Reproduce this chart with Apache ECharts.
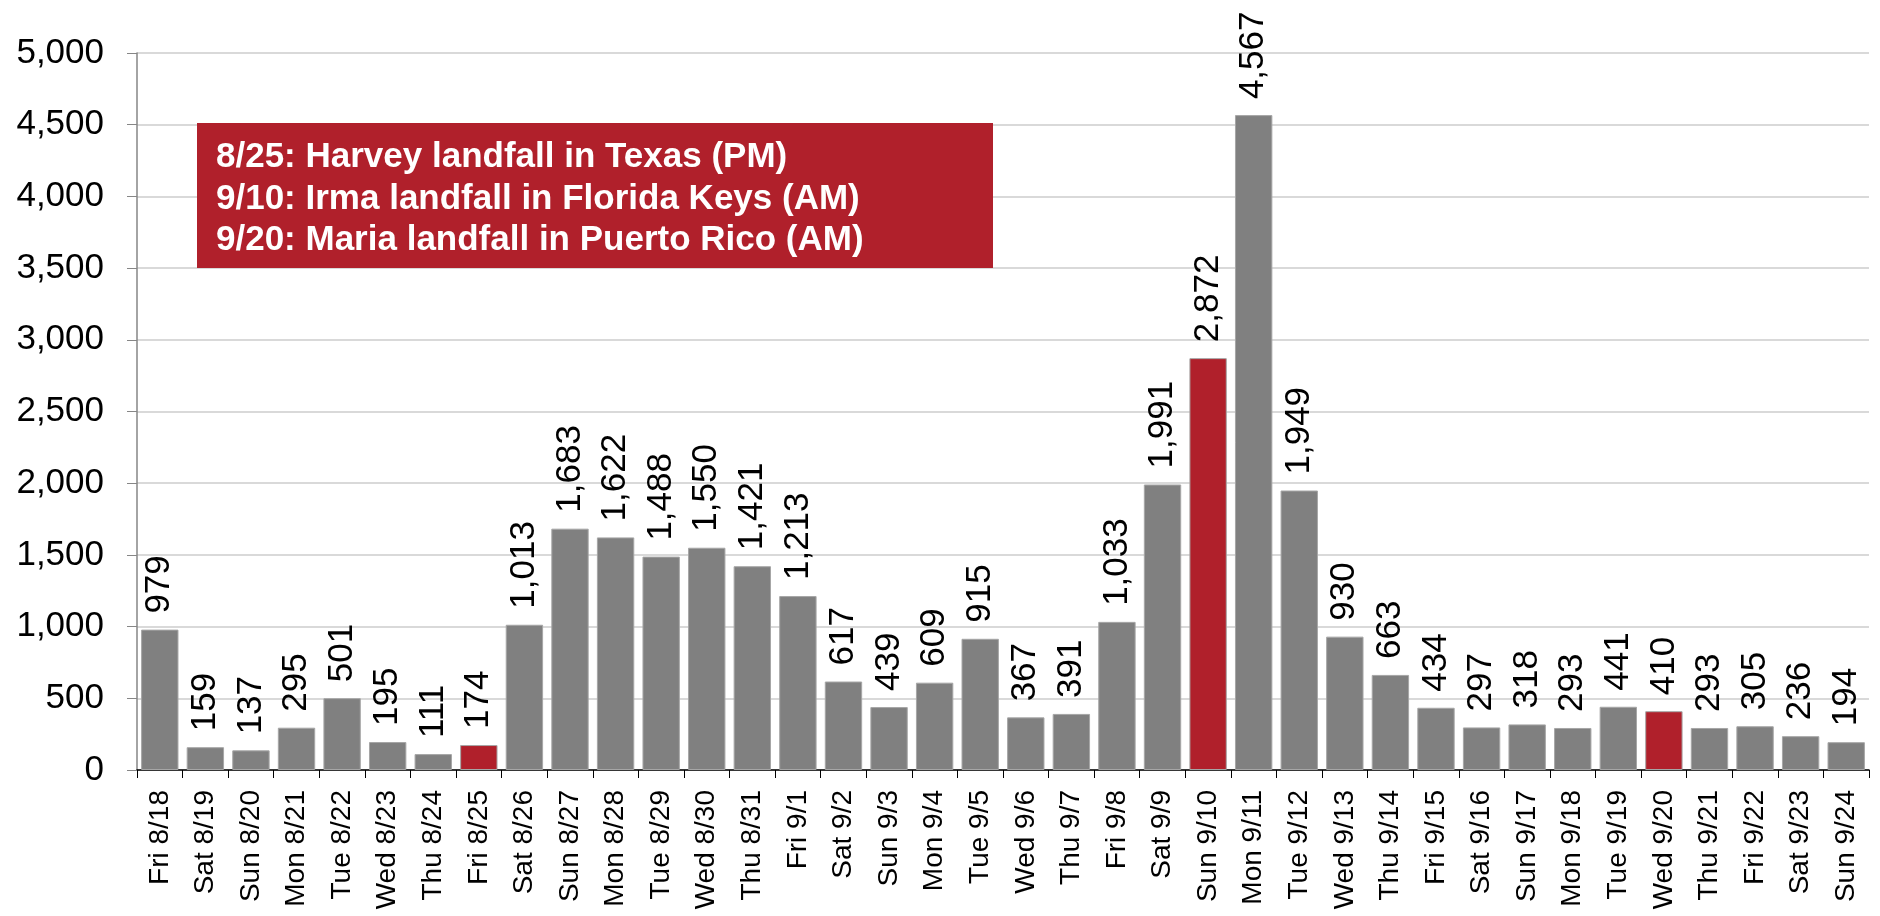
<!DOCTYPE html>
<html>
<head>
<meta charset="utf-8">
<script src="https://cdn.jsdelivr.net/npm/echarts@6/dist/echarts.min.js"></script>
<style>
html,body{margin:0;padding:0;background:#fff;}
#chart{width:1880px;height:916px;}
</style>
</head>
<body>
<div id="chart"></div>
<script>
const categories = ['Fri 8/18','Sat 8/19','Sun 8/20','Mon 8/21','Tue 8/22','Wed 8/23','Thu 8/24','Fri 8/25','Sat 8/26','Sun 8/27','Mon 8/28','Tue 8/29','Wed 8/30','Thu 8/31','Fri 9/1','Sat 9/2','Sun 9/3','Mon 9/4','Tue 9/5','Wed 9/6','Thu 9/7','Fri 9/8','Sat 9/9','Sun 9/10','Mon 9/11','Tue 9/12','Wed 9/13','Thu 9/14','Fri 9/15','Sat 9/16','Sun 9/17','Mon 9/18','Tue 9/19','Wed 9/20','Thu 9/21','Fri 9/22','Sat 9/23','Sun 9/24'];
const values = [979,159,137,295,501,195,111,174,1013,1683,1622,1488,1550,1421,1213,617,439,609,915,367,391,1033,1991,2872,4567,1949,930,663,434,297,318,293,441,410,293,305,236,194];
const landfallDays = ['Fri 8/25','Sun 9/10','Wed 9/20'];
const annotationLines = ['8/25: Harvey landfall in Texas (PM)','9/10: Irma landfall in Florida Keys (AM)','9/20: Maria landfall in Puerto Rico (AM)'];
const yTicks = {min:0, max:5000, interval:500};

const GRAY = '#808080', RED = '#b0202b';
const font = 'Liberation Sans, Arial, sans-serif';

const chart = echarts.init(document.getElementById('chart'));
const option = {
  backgroundColor:'#ffffff',
  animation:false,
  grid:{left:137, right:11, top:53, bottom:146, containLabel:false},
  xAxis:{
    type:'category',
    data:categories,
    axisLine:{lineStyle:{color:'#000', width:1.5}},
    axisTick:{show:true, length:8, lineStyle:{color:'#000'}},
    axisLabel:{rotate:90, interval:0, fontSize:28, color:'#000', fontFamily:font, margin:20}
  },
  yAxis:{
    type:'value',
    min:yTicks.min, max:yTicks.max, interval:yTicks.interval,
    axisLine:{show:true, lineStyle:{color:'#868686', width:1.5}},
    axisTick:{show:true, length:10, lineStyle:{color:'#868686'}},
    splitLine:{lineStyle:{color:'#d9d9d9', width:2}},
    axisLabel:{fontSize:35, color:'#000', fontFamily:font, margin:33,
      formatter:v=>v.toLocaleString('en-US')}
  },
  series:[{
    type:'bar',
    barCategoryGap:'18%',
    data:values.map((v,i)=>({value:v, itemStyle:{color: landfallDays.includes(categories[i]) ? RED : GRAY}})),
    itemStyle:{borderColor:'#a6a6a6', borderWidth:1},
    label:{show:true, position:'top', rotate:90, align:'left', verticalAlign:'middle', distance:16,
      fontSize:35, color:'#000', fontFamily:font,
      formatter:p=>p.value.toLocaleString('en-US')}
  }],
  graphic:[{
    type:'group', left:197, top:123, z:100,
    children:[
      {type:'rect', z:100, shape:{x:0,y:0,width:796,height:145}, style:{fill:RED}},
      {type:'text', z:101, x:19, y:14, style:{text:annotationLines.join('\n'), fill:'#fff',
        font:'bold 35px "Liberation Sans", Arial, sans-serif', lineHeight:41.5}}
    ]
  }]
};
chart.setOption(option);
</script>
</body>
</html>
